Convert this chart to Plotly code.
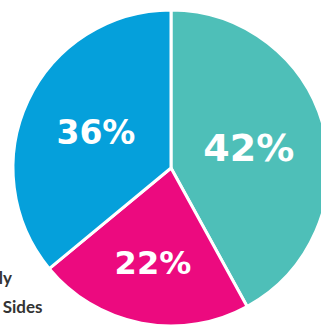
import plotly.graph_objects as go

labels = ["Right", "Left Mostly", "Both Sides"]
values = [42, 22, 36]
colors = ["#4ebfb8", "#ec0a7f", "#05a0db"]

# canvas geometry (pie is larger than the 321x325 window and gets clipped)
W, H = 342, 336
ML, MR, MT, MB = 13, 13, 10, 10
PW, PH = W - ML - MR, H - MT - MB

fig = go.Figure(go.Pie(
    labels=labels,
    values=values,
    sort=False,
    direction="clockwise",
    rotation=0,
    marker=dict(colors=colors, line=dict(color="white", width=3)),
    textinfo="percent",
    textposition="inside",
    insidetextorientation="horizontal",
    textfont=dict(family="DejaVu Sans", size=[38, 32, 33], color="white", weight="bold"),
    hoverinfo="label+percent",
    showlegend=False,
))

# legend-like labels to the left (cut off by the window edge)
label_right_px = [1.5, 14, 45]
label_mid_px = [248, 277, 306]
for lab, xr, ym in zip(labels, label_right_px, label_mid_px):
    fig.add_annotation(
        text=lab, xref="paper", yref="paper",
        x=(xr - ML) / PW, y=1 - (ym - MT) / PH,
        xanchor="right", yanchor="middle", showarrow=False,
        font=dict(family="Lato", size=17, color="#333333", weight="bold"),
    )

fig.update_layout(
    width=W, height=H,
    margin=dict(l=ML, r=MR, t=MT, b=MB),
    paper_bgcolor="white",
    plot_bgcolor="white",
)

fig.write_html(
    "out.html",
    post_script="document.body.style.margin='0';document.body.style.overflow='hidden';document.documentElement.style.overflow='hidden';",
)
